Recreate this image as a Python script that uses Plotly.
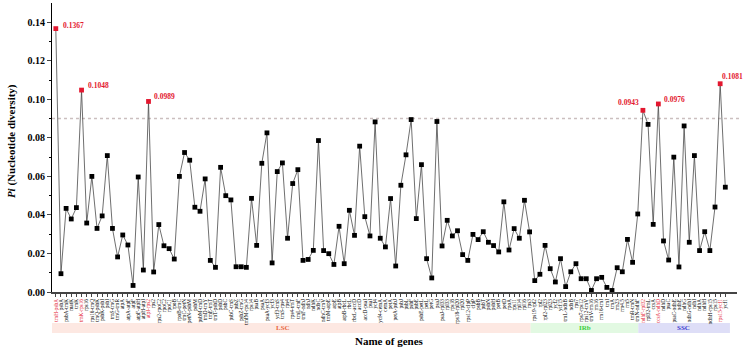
import plotly.graph_objects as go

genes = ["trnH-psbA","psbA","psbA-trnK","matK","trnK","trnK-rps16","rps16","rps16-trnQ","trnQ-psbK","psbK-psbI",
         "psbI","trnS-trnG","trnG-trnR","atpA","atpA-atpF","atpF","atpF-atpH","atpH-atpI","atpI-rps2","rps2",
         "rps2-rpoC2","rpoC2","rpoC1","rpoB","rpoB-trnC","trnC-petN","petN-psbM","psbM","psbM-trnD","trnD-trnY",
         "trnE-trnT","trnT-psbD","psbD","psbC","psbC-trnS","psbZ","psbZ-trnG","trnfM-rps14","rps14","psaB",
         "psaA","psaA-ycf3","ycf3","ycf3-trnS","trnS-rps4","rps4","rps4-trnT","trnL-trnF","trnF-ndhJ","ndhJ",
         "ndhK","ndhC","ndhC-trnV","trnM-atpE","atpE","atpB","atpB-rbcL","rbcL","rbcL-accD","accD",
         "accD-psaI","psaI","ycf4","ycf4-cemA","cemA","petA","petA-psbJ","psbJ","psbL","psbF",
         "psbE","psbE-petL","petL","petG","psaJ","psaJ-rpl33","rpl33","rps18","rps18-rpl20","rpl20",
         "rps12-clpP","clpP","psbB","psbT","psbN","psbH","petB","petD","rpoA","rps11",
         "rpl14","rpl16","rps3",
         "rps19-rpl2","rpl2","rpl2-rpl23","rpl23","ycf2","ycf15","trnL-ndhB","ndhB","rps7","rps7-rps12",
         "rps12-trnV","trnV-rrn16","rrn16","rrn16-trnI","trnI","trnA","rrn23","rrn4.5","rrn5","trnR-trnN",
         "trnN-ndhF",
         "ndhF-rpl32","rpl32-trnL","ccsA","ccsA-ndhD","ndhD","psaC","psaC-ndhE","ndhE","ndhG","ndhG-ndhI",
         "ndhI","ndhA","ndhH","ndhH-rps15","rps15","rps15-ycf1","ycf1"]

pi_values = [0.1367,0.0095,0.0434,0.0379,0.0438,0.1048,0.0358,0.0600,0.0330,0.0395,
             0.0708,0.0330,0.0182,0.0296,0.0244,0.0034,0.0597,0.0114,0.0989,0.0104,
             0.0350,0.0240,0.0225,0.0171,0.0600,0.0724,0.0684,0.0440,0.0419,0.0587,
             0.0164,0.0128,0.0647,0.0500,0.0478,0.0131,0.0131,0.0128,0.0486,0.0242,
             0.0668,0.0826,0.0151,0.0625,0.0670,0.0279,0.0563,0.0635,0.0164,0.0169,
             0.0216,0.0786,0.0215,0.0199,0.0143,0.0341,0.0147,0.0424,0.0294,0.0757,
             0.0391,0.0291,0.0883,0.0279,0.0234,0.0485,0.0135,0.0554,0.0712,0.0895,
             0.0381,0.0661,0.0173,0.0073,0.0885,0.0239,0.0372,0.0291,0.0318,0.0194,
             0.0164,0.0299,0.0272,0.0313,0.0258,0.0241,0.0208,0.0468,0.0218,0.0329,
             0.0279,0.0476,0.0312,0.0059,0.0092,0.0242,0.0121,0.0052,0.0173,0.0028,
             0.0105,0.0147,0.0069,0.0069,0.0008,0.0069,0.0076,0.0024,0.0008,0.0126,
             0.0105,0.0273,0.0154,0.0405,0.0943,0.0870,0.0351,0.0976,0.0265,0.0166,
             0.0700,0.0130,0.0862,0.0258,0.0708,0.0215,0.0313,0.0215,0.0441,0.1081,
             0.0544]

highlight_idx = [0, 5, 18, 114, 117, 129]
threshold = 0.09
regions = ["LSC", "IRb", "SSC"]
region_bounds = [(-0.99, 92.2), (92.2, 113.1), (113.1, 130.9)]
region_fill = ["#fde8e2", "#e2f9e2", "#dedef7"]
region_text = ["#e8653d", "#3ccf3c", "#3a3ad0"]
region_label_x = [44.2, 102.7, 121.8]

RED = "#e3172f"
x = list(range(len(pi_values)))
marker_colors = [RED if i in highlight_idx else "black" for i in x]
ticktext = [f"<span style='color:{RED}'>{g}</span>" if i in highlight_idx else g
            for i, g in enumerate(genes)]

fig = go.Figure()
fig.add_trace(go.Scatter(
    x=x, y=pi_values, mode="lines+markers",
    line=dict(color="#4a4a4a", width=0.8),
    marker=dict(symbol="square", size=4.8, color=marker_colors, line=dict(width=0)),
    showlegend=False, hoverinfo="skip"))

serif = "Liberation Serif"

# threshold line
fig.add_shape(type="line", xref="paper", yref="y", x0=0, x1=1.007, y0=threshold, y1=threshold,
              line=dict(color="#cbbfbf", width=1.5, dash="dot"), layer="below")

# region bands
for name, (a, b), fc, tc, lx in zip(regions, region_bounds, region_fill, region_text, region_label_x):
    fig.add_shape(type="rect", xref="x", yref="paper", x0=a, x1=b, y0=-0.142, y1=-0.107,
                  fillcolor=fc, line=dict(width=0), layer="below")
    fig.add_annotation(x=lx, y=-0.1245, xref="x", yref="paper", text=f"<b>{name}</b>",
                       showarrow=False, font=dict(family=serif, size=7, color=tc),
                       xanchor="center", yanchor="middle")

# value labels
label_offsets = {0: ("left", 5, 3), 5: ("left", 4, 4.5), 18: ("left", 3, 5),
                 114: ("right", -1.5, 7.5), 117: ("left", 3.7, 4.7), 129: ("left", 0, 7)}
for i in highlight_idx:
    anchor, xs, ys = label_offsets[i]
    fig.add_annotation(x=i, y=pi_values[i], xref="x", yref="y", text=f"<b>{pi_values[i]:.4f}</b>",
                       showarrow=False, xanchor=anchor, yanchor="middle", xshift=xs, yshift=ys,
                       font=dict(family=serif, size=7.5, color=RED))

# y title
fig.add_annotation(x=-0.058, y=0.523, xref="paper", yref="paper",
                   text="<b><i>Pi</i> (Nucleotide diversity)</b>", textangle=-90, showarrow=False,
                   font=dict(family=serif, size=11, color="black"), xanchor="center", yanchor="middle")
# x title
fig.add_annotation(x=0.493, y=-0.1685, xref="paper", yref="paper", text="<b>Name of genes</b>",
                   showarrow=False, font=dict(family=serif, size=11, color="black"),
                   xanchor="center", yanchor="middle")

fig.update_layout(
    width=745, height=349,
    margin=dict(l=52, r=8, t=3, b=57),
    paper_bgcolor="white", plot_bgcolor="white",
    xaxis=dict(range=[-0.74, 132.27], tickmode="array", tickvals=x, ticktext=ticktext,
               tickangle=-90, tickfont=dict(family=serif, size=5.3, color="black"), automargin=False,
               showline=True, linecolor="#444", linewidth=1.8, ticks="outside", ticklen=3,
               tickwidth=0.5, tickcolor="#444", showgrid=False, zeroline=False),
    yaxis=dict(range=[0, 0.15], tickmode="array", tickvals=[0, 0.02, 0.04, 0.06, 0.08, 0.10, 0.12, 0.14],
               ticktext=["0.00", "0.02", "0.04", "0.06", "0.08", "0.10", "0.12", "0.14"],
               tickfont=dict(family=serif, size=10, color="black", weight="bold"), automargin=False,
               showline=True, linecolor="black", linewidth=1, ticks="outside", ticklen=4, tickwidth=1,
               minor=dict(tickvals=[0.01, 0.03, 0.05, 0.07, 0.09, 0.11, 0.13], ticks="outside", ticklen=2,
                          tickwidth=1, tickcolor="black"),
               showgrid=False, zeroline=False),
)

fig.write_html("out.html", config={"displayModeBar": False},
               post_script="document.body.style.margin='0';document.body.style.overflow='hidden';")
